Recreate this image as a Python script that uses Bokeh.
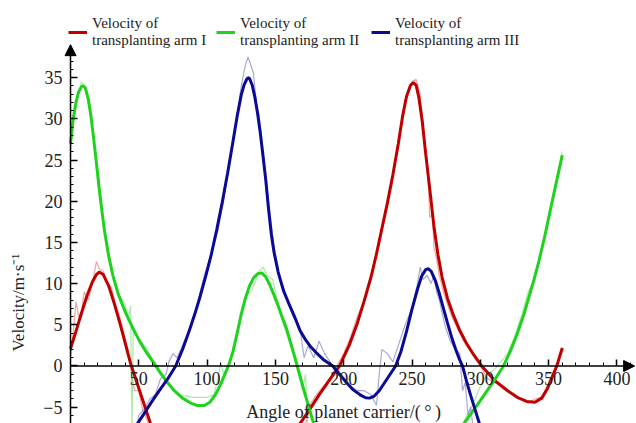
import math
from bokeh.plotting import figure
from bokeh.models import (LinearAxis, FixedTicker, Range1d, Arrow, NormalHead,
                          Label, Legend, LegendItem)
from bokeh.embed import file_html
from bokeh.resources import INLINE

NaN = float("nan")

# ---------------- data ----------------
# Smooth (fitted) velocity curves, angle of planet carrier in degrees
red_x = [0, 4, 8, 12, 16, 19, 21, 24, 28, 32, 36, 40, 44, 48, 52, 56, 60, 63, NaN,
         164, 168, 175, 182, 190, 197, 204, 210, 215, 220, 224, 228, 232, 236, 240, 243,
         246, 249, 251, 253, 255, 257.5, 260, 263, 266, 269, 272, 276, 280, 285, 290, 295,
         301, 307, 310, 313, 320, 327, 334, 340, 345, 349, 353, 356, 360]
red_y = [2.1, 4.2, 6.4, 8.5, 10.2, 11.1, 11.4, 11.1, 9.7, 7.6, 5.3, 2.8, 0.3, -1.7, -3.7, -5.7, -7.7, -9.2, NaN,
         -8.5, -7.0, -5.3, -3.5, -1.6, 0.0, 2.5, 5.2, 7.9, 10.8, 13.6, 16.7, 19.8, 23.2, 27.0, 30.2,
         32.7, 34.1, 34.4, 34.1, 32.6, 29.7, 25.8, 21.5, 17.0, 13.5, 10.8, 8.2, 6.3, 4.3, 2.7, 1.4,
         0.0, -1.1, -1.7, -2.1, -3.0, -3.8, -4.3, -4.4, -3.9, -2.8, -1.2, 0.0, 2.2]

green_x = [0, 2, 4, 6, 8, 9.5, 11, 13, 15, 17, 19, 21, 23, 25, 28, 31, 35, 40, 45, 50, 55,
           60, 64, 70, 76, 82, 88, 93, 98, 102, 106, 110, 113, 116, 119, 122, 125, 128, 131,
           134, 137, 140, 143, 146, 149, 152, 155, 158, 161, 164, 166, 169, 172, 175, 178, 181, NaN,
           283, 288, 294, 300, 305, 310, 317, 322, 327, 332, 336, 339, 343, 347, 351, 355, 360]
green_y = [27.0, 30.0, 32.0, 33.3, 33.9, 34.0, 33.7, 32.4, 30.3, 27.5, 24.6, 21.6, 18.8, 16.3, 13.3, 11.0, 8.7, 6.6, 4.8, 3.2, 1.8,
           0.6, -0.4, -1.8, -3.0, -3.9, -4.5, -4.8, -4.8, -4.4, -3.5, -2.2, -1.0, 0.2, 1.8, 4.0, 6.3, 8.2, 9.7,
           10.7, 11.2, 11.3, 10.8, 9.8, 8.6, 7.3, 5.9, 4.6, 2.9, 1.2, 0.0, -1.8, -3.6, -5.3, -7.0, -8.8, NaN,
           -9.0, -7.0, -5.6, -4.2, -3.0, -1.8, 0.0, 1.8, 3.9, 6.3, 8.6, 10.3, 12.8, 15.6, 18.7, 21.8, 25.6]

blue_x = [46, 49, 55, 60, 65, 71, 77, 82, 87, 91, 95, 99, 103, 107, 111, 115, 119, 122, 125, 127,
          129, 130, 131, 133, 135, 137, 139, 141, 143, 145, 147, 149, 152, 156, 160, 164, 168, 172,
          176, 180, 185, 192, 197, 202, 207, 212, 216, 219, 222, 226, 230, 234, 238, 242, 246, 250,
          254, 257, 260, 262, 264, 267, 270, 273, 276, 279, 282, 285, 287, 290, 293, 296, 299, 302]
blue_y = [-7.8, -7.0, -5.5, -4.2, -3.0, -1.6, 0.0, 2.0, 4.3, 6.3, 8.5, 10.9, 13.5, 16.5, 19.8, 23.4, 27.3, 30.3, 32.9, 34.1,
          34.8, 35.0, 34.9, 34.1, 32.6, 30.6, 28.2, 25.4, 22.5, 19.0, 16.0, 13.8, 11.4, 9.1, 7.5, 6.0, 4.3, 3.2,
          2.3, 1.6, 0.8, 0.0, -1.0, -2.0, -2.9, -3.5, -3.85, -3.9, -3.7, -3.0, -2.0, -1.0, 0.0, 1.8, 4.2, 6.9,
          9.3, 10.9, 11.7, 11.8, 11.5, 10.4, 8.8, 7.0, 5.2, 3.5, 2.0, 0.7, 0.0, -1.9, -3.6, -5.2, -6.8, -8.4]

# Measured (thin, noisy) curves
red_mx = [0, 2, 4, 6, 8, 10, 13, 16, 19, 21, 24, 27, 30, 33, 36, 39, 42, 44, 45, 47, 50, 53, 56, 59, NaN,
          170, 174, 176, 180, 185, 190, 195, 200, 205, 210, 215, 220, 224, 228, 232, 236, 240, 244,
          247, 250, 253, 256, 259, 262, 263, 265, 266, 268, 270, 273, 276, 279, 282, 285, 288, 292,
          296, 300, 305, 310, 315, 320, 325, 330, 335, 340, 345, 350, 354, 358, 361]
red_my = [1.0, 4.0, 7.8, 6.0, 6.5, 9.0, 8.0, 10.0, 12.7, 11.8, 11.5, 10.0, 9.5, 7.5, 6.0, 4.0, 2.0, 0.0, -1.5, -3.0, -3.0, -5.5, -6.5, -8.0, NaN,
          -8.0, -6.0, -4.5, -3.5, -2.5, -1.5, 0.0, 1.5, 3.5, 6.0, 8.0, 10.5, 13.5, 17.0, 20.0, 23.0, 27.5, 31.5,
          33.5, 34.5, 34.8, 33.0, 28.0, 22.0, 18.0, 18.5, 14.5, 13.0, 11.0, 9.0, 7.5, 6.0, 5.0, 4.0, 3.0, 2.5,
          1.0, 0.0, -1.5, -2.0, -2.3, -3.0, -3.5, -4.0, -4.5, -4.0, -3.8, -2.0, -0.5, 1.0, 2.0]

green_mx = [0, 2, 5, 8, 11, 14, 17, 20, 24, 28, 32, 36, 40, 42, 44, 45, 46, 50, 55, 60, 64, 70, 80,
            90, 100, 105, 108, 110, 112, 116, 120, 125, 128, 132, 135, 138, 141, 144, 148, 152, 156,
            160, 165, 170, 172, 174, NaN,
            285, 290, 295, 300, 305, 310, 315, 320, 325, 330, 335, 340, 345, 350, 355, 360]
green_my = [26.0, 30.0, 32.5, 34.5, 33.5, 31.0, 27.5, 22.0, 17.0, 13.0, 10.5, 8.5, 7.5, 5.5, 7.3, -8.0, 4.8, 3.0, 2.3, 0.8, 0.0, -2.0, -3.5,
            -3.8, -3.8, -3.5, -1.5, 0.5, -1.0, 0.0, 2.0, 6.0, 8.5, 9.0, 10.0, 11.5, 12.0, 11.0, 10.5, 7.5, 5.0,
            3.0, 0.3, -3.0, -1.0, -8.0, NaN,
            -8.0, -6.0, -4.5, -2.5, -1.0, -0.5, 0.5, 1.5, 3.5, 6.0, 9.0, 10.5, 14.0, 18.0, 21.5, 26.0]

blue_mx = [48, 50, 55, 58, 62, 66, 70, 72, 75, 78, 82, 86, 92, 98, 104, 108, 112, 116, 119, 122,
           125, 128, 130, 132, 134, 136, 138, 141, 145, 149, 153, 158, 163, 168, 171, 174, 178, 182,
           186, 190, 195, 200, 205, 210, 215, 220, 224, 226, 228, 232, 236, 240, 245, 250, 254, 256,
           258, 261, 264, 266, 268, 270, 274, 278, 282, 285, 287, 289, 291, 293, 295]
blue_my = [-8.0, -6.0, -5.0, -4.0, -3.5, -1.5, -1.0, 0.5, 1.5, 1.0, 2.5, 4.0, 7.0, 11.0, 14.0, 16.5, 20.0, 24.5, 27.0, 30.5,
           34.0, 36.5, 37.5, 36.5, 35.5, 32.0, 30.5, 26.0, 20.0, 14.5, 11.0, 8.5, 6.0, 4.5, 1.0, 2.5, 1.0, 3.0,
           1.5, 0.5, -1.0, -1.5, -2.5, -3.0, -3.0, -3.5, -4.8, -1.0, 2.0, 1.5, 0.5, 2.5, 5.0, 7.0, 10.0, 12.0,
           10.5, 11.0, 10.0, 11.0, 9.0, 8.0, 5.0, 3.0, 2.0, 1.5, -3.0, -2.0, -6.0, -5.0, -8.0]

labels = ["Velocity of\ntransplanting arm I",
          "Velocity of\ntransplanting arm II",
          "Velocity of\ntransplanting arm III"]
x_ticks = [50, 100, 150, 200, 250, 300, 350, 400]
y_ticks = [-5, 0, 5, 10, 15, 20, 25, 30, 35]

FONT = "'Liberation Serif', 'Times New Roman', serif"
TXT = "#222222"
RED, GREEN, BLUE = "#c00000", "#1ed21e", "#0a0a96"

p = figure(width=636, height=423, output_backend="svg", toolbar_location=None,
           x_range=Range1d(-51.25, 414.35), y_range=Range1d(-6.98, 44.36),
           x_axis_location=None, y_axis_location=None,
           min_border_left=0, min_border_right=0, min_border_top=0, min_border_bottom=0,
           outline_line_color=None)
p.xgrid.visible = False
p.ygrid.visible = False

# measured thin lines
p.line(red_mx, red_my, line_color="#e06a6a", line_width=1.2, line_alpha=0.6)
p.line(green_mx, green_my, line_color="#6fdc6f", line_width=1.2, line_alpha=0.6)
p.line(blue_mx, blue_my, line_color="#7070b8", line_width=1.2, line_alpha=0.6)

# smooth lines
r_red = p.line(red_x, red_y, line_color=RED, line_width=3)
r_green = p.line(green_x, green_y, line_color=GREEN, line_width=3)
r_blue = p.line(blue_x, blue_y, line_color=BLUE, line_width=3)

# axes (crossing at the origin)
yaxis = LinearAxis(fixed_location=0,
                   ticker=FixedTicker(ticks=y_ticks, minor_ticks=list(range(-7, 39))),
                   major_tick_in=7, major_tick_out=0, minor_tick_in=3, minor_tick_out=0,
                   axis_line_color=None, major_tick_line_width=1.5,
                   major_label_standoff=8, major_label_text_font=FONT,
                   major_label_text_font_size="18px", major_label_text_color=TXT,
                   major_label_overrides={-5: "\u22125"})
p.add_layout(yaxis, "left")

xaxis = LinearAxis(fixed_location=0,
                   ticker=FixedTicker(ticks=x_ticks, minor_ticks=list(range(10, 411, 10))),
                   major_tick_in=6, major_tick_out=0, minor_tick_in=3, minor_tick_out=0,
                   axis_line_color=None, major_tick_line_width=1.5,
                   major_label_standoff=6, major_label_text_font=FONT,
                   major_label_text_font_size="18px", major_label_text_color=TXT)
p.add_layout(xaxis, "below")

p.add_layout(Arrow(end=NormalHead(size=11, fill_color="black", line_color="black"),
                   x_start=0, y_start=0, x_end=413.0, y_end=0, line_width=1.5))
p.add_layout(Arrow(end=NormalHead(size=11, fill_color="black", line_color="black"),
                   x_start=0, y_start=-8, x_end=0, y_end=39.0, line_width=1.5))

p.add_layout(Label(x=-38.1, y=7.7, text="Velocity/m\u00b7s\u207b\u00b9",
                   angle=math.pi / 2, text_align="center", text_baseline="middle",
                   text_font=FONT, text_font_size="17px", text_color=TXT))
p.add_layout(Label(x=200, y=-5.64, text="Angle of planet carrier/(\u2009\u00b0\u2009)",
                   text_align="center", text_baseline="middle", text_font=FONT,
                   text_font_size="18px", text_color=TXT))

for r, lab, xloc in [(r_red, labels[0], 68), (r_green, labels[1], 216), (r_blue, labels[2], 371)]:
    leg = Legend(items=[LegendItem(label=lab, renderers=[r])], location=(xloc, 374),
                 label_text_font=FONT, label_text_font_size="15px", label_text_color=TXT,
                 label_text_line_height=1.45,
                 glyph_width=19, label_standoff=5, padding=0, margin=0, spacing=0,
                 border_line_color=None, background_fill_alpha=0)
    p.add_layout(leg)

open("out.html", "w").write(file_html(p, INLINE))
